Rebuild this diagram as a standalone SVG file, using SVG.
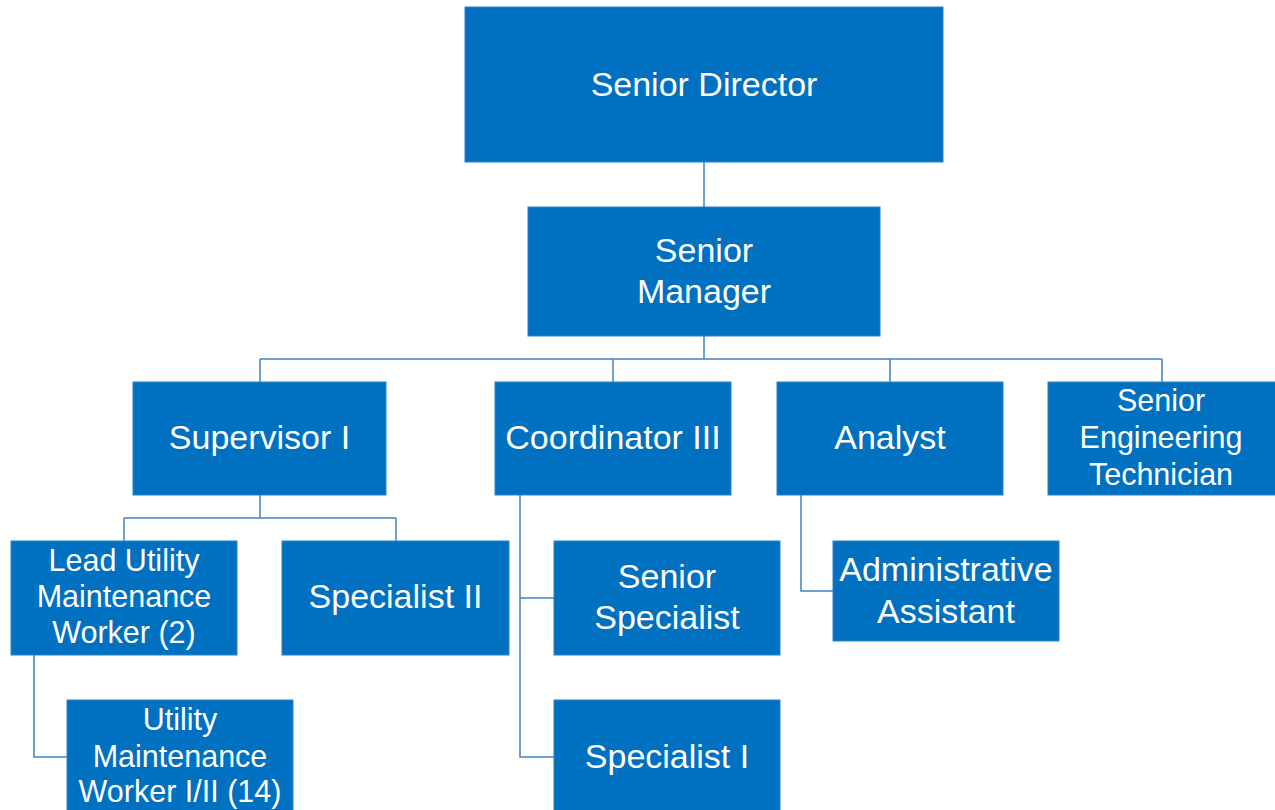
<svg xmlns="http://www.w3.org/2000/svg" width="1275" height="810" viewBox="0 0 1275 810">
<style>
.box{fill:#0070C0;stroke:#2F80C6;stroke-width:1}
.t{fill:#FFFFFF;font-family:"Liberation Sans",Arial,sans-serif;text-anchor:middle}
.l{font-size:34px}
.m{font-size:30.5px}
.c{fill:none;stroke:#3F84C4;stroke-width:1.5}
</style>
<rect width="1275" height="810" fill="#FFFFFF"/>
<g id="connectors">
<path class="c" d="M704,162V207"/>
<path class="c" d="M704,336V359M260,359H1162M260,359V382M613,359V382M890,359V382M1162,359V382"/>
<path class="c" d="M260,495V518M124,518H396M124,518V541M396,518V541"/>
<path class="c" d="M520,495V757H554M520,598H554"/>
<path class="c" d="M801,495V591H833"/>
<path class="c" d="M34,655V757H67"/>
</g>
<g id="senior-director"><rect class="box" x="465" y="7" width="478" height="155"/><text class="t l" x="704" y="96">Senior Director</text></g>
<g id="senior-manager"><rect class="box" x="528" y="207" width="352" height="129"/><text class="t l" x="704" y="262">Senior</text><text class="t l" x="704" y="303">Manager</text></g>
<g id="supervisor-i"><rect class="box" x="133" y="382" width="253" height="113"/><text class="t l" x="259.500" y="449">Supervisor I</text></g>
<g id="coordinator-iii"><rect class="box" x="495" y="382" width="236" height="113"/><text class="t l" x="613" y="449">Coordinator III</text></g>
<g id="analyst"><rect class="box" x="777" y="382" width="226" height="113"/><text class="t l" x="890" y="449">Analyst</text></g>
<g id="senior-engineering-technician"><rect class="box" x="1048" y="382" width="229" height="113"/><text class="t m" x="1161" y="411">Senior</text><text class="t m" x="1161" y="448">Engineering</text><text class="t m" x="1161" y="485">Technician</text></g>
<g id="lead-utility"><rect class="box" x="11" y="541" width="226" height="114"/><text class="t m" x="124" y="571">Lead Utility</text><text class="t m" x="124" y="607">Maintenance</text><text class="t m" x="124" y="643">Worker (2)</text></g>
<g id="specialist-ii"><rect class="box" x="282" y="541" width="227" height="114"/><text class="t l" x="395.500" y="608">Specialist II</text></g>
<g id="senior-specialist"><rect class="box" x="554" y="541" width="226" height="114"/><text class="t l" x="667" y="588">Senior</text><text class="t l" x="667" y="629">Specialist</text></g>
<g id="administrative-assistant"><rect class="box" x="833" y="541" width="226" height="100"/><text class="t l" x="946" y="581">Administrative</text><text class="t l" x="946" y="623">Assistant</text></g>
<g id="utility-worker"><rect class="box" x="67" y="700" width="226" height="115"/><text class="t m" x="180" y="730">Utility</text><text class="t m" x="180" y="767">Maintenance</text><text class="t m" x="180" y="802">Worker I/II (14)</text></g>
<g id="specialist-i"><rect class="box" x="554" y="700" width="226" height="115"/><text class="t l" x="667" y="768">Specialist I</text></g>
</svg>
